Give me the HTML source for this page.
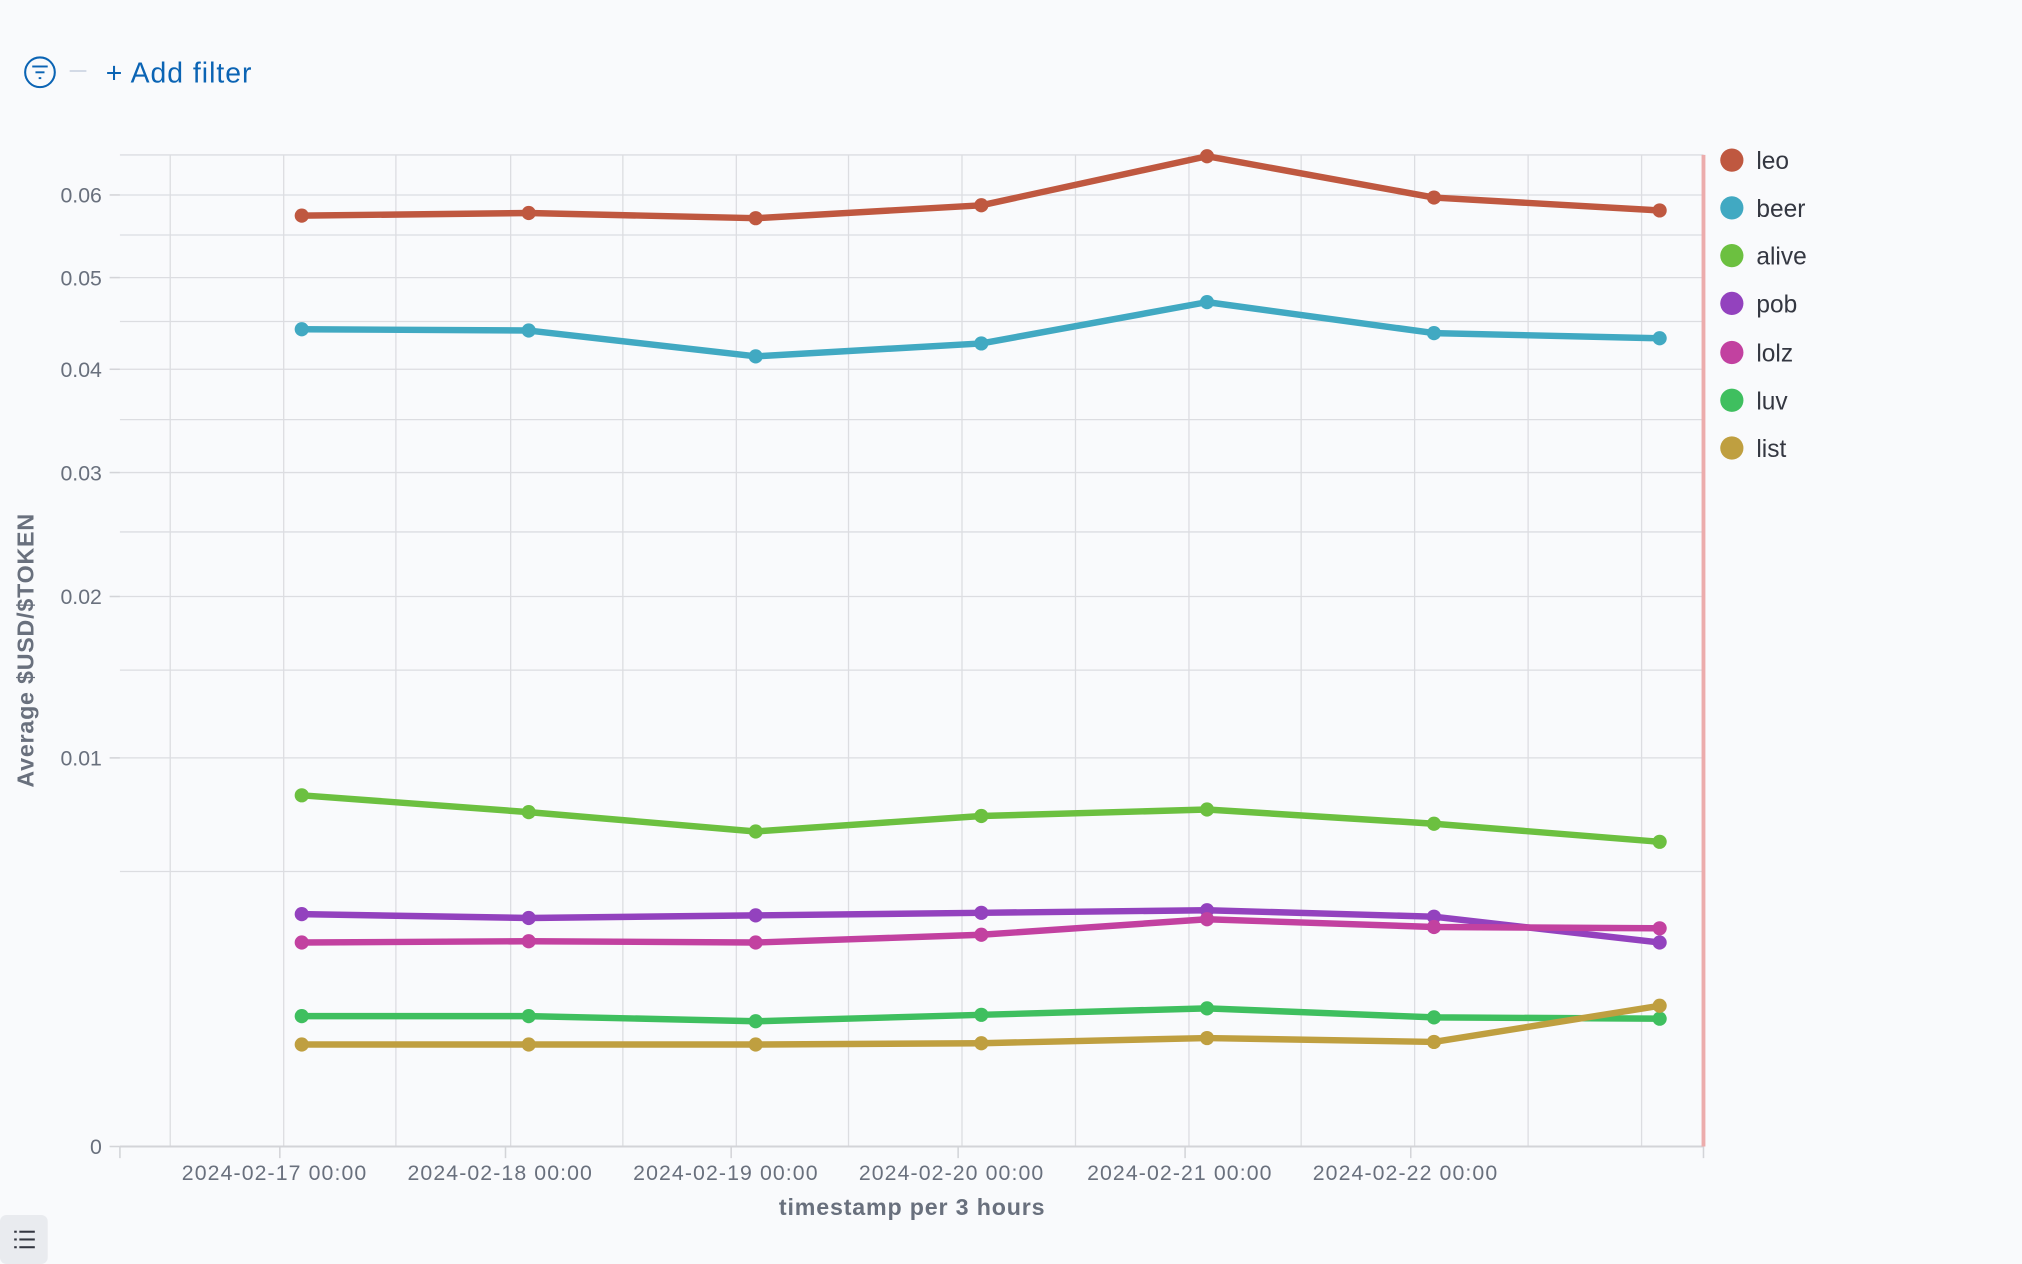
<!DOCTYPE html>
<html><head><meta charset="utf-8"><style>
html,body{margin:0;padding:0;background:#f9fafc;}
svg{display:block;font-family:"Liberation Sans",sans-serif;}
</style></head><body>
<svg width="2022" height="1264" viewBox="0 0 1568 979" preserveAspectRatio="none">
<rect width="1568" height="979" fill="#f9fafc"/>
<!-- filter bar -->
<circle cx="31" cy="56" r="11.5" fill="none" stroke="#0b64b4" stroke-width="1.6"/>
<line x1="25" y1="51.5" x2="37" y2="51.5" stroke="#0b64b4" stroke-width="1.5"/>
<line x1="27.5" y1="56" x2="34.5" y2="56" stroke="#0b64b4" stroke-width="1.5"/>
<line x1="30" y1="60.5" x2="32" y2="60.5" stroke="#0b64b4" stroke-width="1.5"/>
<line x1="54" y1="55" x2="67" y2="55" stroke="#d3dae6" stroke-width="1.5"/>
<text x="82" y="64" font-size="22" fill="#0b64b4" textLength="113">+ Add filter</text>
<!-- grid -->
<g stroke="#dcdde1" stroke-width="1">
<line x1="93" y1="120" x2="1321" y2="120"/>
<line x1="93" y1="151" x2="1321" y2="151"/>
<line x1="93" y1="182" x2="1321" y2="182"/>
<line x1="93" y1="215" x2="1321" y2="215"/>
<line x1="93" y1="249" x2="1321" y2="249"/>
<line x1="93" y1="286" x2="1321" y2="286"/>
<line x1="93" y1="325" x2="1321" y2="325"/>
<line x1="93" y1="366" x2="1321" y2="366"/>
<line x1="93" y1="412" x2="1321" y2="412"/>
<line x1="93" y1="462" x2="1321" y2="462"/>
<line x1="93" y1="519" x2="1321" y2="519"/>
<line x1="93" y1="587" x2="1321" y2="587"/>
<line x1="93" y1="675" x2="1321" y2="675"/>
<line x1="132" y1="120" x2="132" y2="888"/><line x1="220" y1="120" x2="220" y2="888"/>
<line x1="307" y1="120" x2="307" y2="888"/><line x1="396" y1="120" x2="396" y2="888"/>
<line x1="483" y1="120" x2="483" y2="888"/><line x1="571" y1="120" x2="571" y2="888"/>
<line x1="658" y1="120" x2="658" y2="888"/><line x1="746" y1="120" x2="746" y2="888"/>
<line x1="834" y1="120" x2="834" y2="888"/><line x1="922" y1="120" x2="922" y2="888"/>
<line x1="1009" y1="120" x2="1009" y2="888"/><line x1="1097" y1="120" x2="1097" y2="888"/>
<line x1="1185" y1="120" x2="1185" y2="888"/><line x1="1273" y1="120" x2="1273" y2="888"/>
</g>
<line x1="93" y1="888" x2="1321" y2="888" stroke="#d3d4d8" stroke-width="1.5"/>
<g stroke="#d3d4d8" stroke-width="1.2">
<line x1="93" y1="888" x2="93" y2="897"/><line x1="217" y1="888" x2="217" y2="897"/>
<line x1="392" y1="888" x2="392" y2="897"/><line x1="567" y1="888" x2="567" y2="897"/>
<line x1="743" y1="888" x2="743" y2="897"/><line x1="919" y1="888" x2="919" y2="897"/>
<line x1="1094" y1="888" x2="1094" y2="897"/><line x1="1321" y1="888" x2="1321" y2="897"/>
<line x1="85" y1="151" x2="93" y2="151"/><line x1="85" y1="215" x2="93" y2="215"/>
<line x1="85" y1="286" x2="93" y2="286"/><line x1="85" y1="366" x2="93" y2="366"/>
<line x1="85" y1="462" x2="93" y2="462"/><line x1="85" y1="587" x2="93" y2="587"/>
<line x1="85" y1="888" x2="93" y2="888"/>
</g>
<g font-size="16.5" fill="#69707d" text-anchor="end">
<text x="79" y="157">0.06</text><text x="79" y="221">0.05</text><text x="79" y="292">0.04</text>
<text x="79" y="372">0.03</text><text x="79" y="468">0.02</text><text x="79" y="593">0.01</text>
<text x="79" y="894">0</text>
</g>
<g font-size="16.5" fill="#69707d">
<text x="141" y="914" textLength="143">2024-02-17 00:00</text><text x="316" y="914" textLength="143">2024-02-18 00:00</text>
<text x="491" y="914" textLength="143">2024-02-19 00:00</text><text x="666" y="914" textLength="143">2024-02-20 00:00</text>
<text x="843" y="914" textLength="143">2024-02-21 00:00</text><text x="1018" y="914" textLength="143">2024-02-22 00:00</text>
</g>
<text x="604" y="941" font-size="18" font-weight="bold" fill="#69707d" textLength="206">timestamp per 3 hours</text>
<text transform="translate(26,610) rotate(-90)" font-size="18" font-weight="bold" fill="#69707d" textLength="212">Average $USD/$TOKEN</text>
<line x1="1321" y1="120" x2="1321" y2="888" stroke="#ecacac" stroke-width="3"/>
<!-- series -->
<g fill="none" stroke-width="5" stroke-linejoin="round" stroke-linecap="round">
<polyline stroke="#bf5840" points="234,167 410,165 586,169 761,159 936,121 1112,153 1287,163"/>
<polyline stroke="#41a9c2" points="234,255 410,256 586,276 761,266 936,234 1112,258 1287,262"/>
<polyline stroke="#6cc040" points="234,616 410,629 586,644 761,632 936,627 1112,638 1287,652"/>
<polyline stroke="#9342be" points="234,708 410,711 586,709 761,707 936,705 1112,710 1287,730"/>
<polyline stroke="#c241a0" points="234,730 410,729 586,730 761,724 936,712 1112,718 1287,719"/>
<polyline stroke="#3fbf5f" points="234,787 410,787 586,791 761,786 936,781 1112,788 1287,789"/>
<polyline stroke="#bf9f40" points="234,809 410,809 586,809 761,808 936,804 1112,807 1287,779"/>
</g>
<g>
<g fill="#bf5840"><circle cx="234" cy="167" r="5.5"/><circle cx="410" cy="165" r="5.5"/><circle cx="586" cy="169" r="5.5"/><circle cx="761" cy="159" r="5.5"/><circle cx="936" cy="121" r="5.5"/><circle cx="1112" cy="153" r="5.5"/><circle cx="1287" cy="163" r="5.5"/></g>
<g fill="#41a9c2"><circle cx="234" cy="255" r="5.5"/><circle cx="410" cy="256" r="5.5"/><circle cx="586" cy="276" r="5.5"/><circle cx="761" cy="266" r="5.5"/><circle cx="936" cy="234" r="5.5"/><circle cx="1112" cy="258" r="5.5"/><circle cx="1287" cy="262" r="5.5"/></g>
<g fill="#6cc040"><circle cx="234" cy="616" r="5.5"/><circle cx="410" cy="629" r="5.5"/><circle cx="586" cy="644" r="5.5"/><circle cx="761" cy="632" r="5.5"/><circle cx="936" cy="627" r="5.5"/><circle cx="1112" cy="638" r="5.5"/><circle cx="1287" cy="652" r="5.5"/></g>
<g fill="#9342be"><circle cx="234" cy="708" r="5.5"/><circle cx="410" cy="711" r="5.5"/><circle cx="586" cy="709" r="5.5"/><circle cx="761" cy="707" r="5.5"/><circle cx="936" cy="705" r="5.5"/><circle cx="1112" cy="710" r="5.5"/><circle cx="1287" cy="730" r="5.5"/></g>
<g fill="#c241a0"><circle cx="234" cy="730" r="5.5"/><circle cx="410" cy="729" r="5.5"/><circle cx="586" cy="730" r="5.5"/><circle cx="761" cy="724" r="5.5"/><circle cx="936" cy="712" r="5.5"/><circle cx="1112" cy="718" r="5.5"/><circle cx="1287" cy="719" r="5.5"/></g>
<g fill="#3fbf5f"><circle cx="234" cy="787" r="5.5"/><circle cx="410" cy="787" r="5.5"/><circle cx="586" cy="791" r="5.5"/><circle cx="761" cy="786" r="5.5"/><circle cx="936" cy="781" r="5.5"/><circle cx="1112" cy="788" r="5.5"/><circle cx="1287" cy="789" r="5.5"/></g>
<g fill="#bf9f40"><circle cx="234" cy="809" r="5.5"/><circle cx="410" cy="809" r="5.5"/><circle cx="586" cy="809" r="5.5"/><circle cx="761" cy="808" r="5.5"/><circle cx="936" cy="804" r="5.5"/><circle cx="1112" cy="807" r="5.5"/><circle cx="1287" cy="779" r="5.5"/></g>
</g>
<!-- legend -->
<g font-size="19" fill="#343741">
<circle cx="1343" cy="124" r="9" fill="#bf5840"/><text x="1362" y="131">leo</text>
<circle cx="1343" cy="161" r="9" fill="#41a9c2"/><text x="1362" y="168">beer</text>
<circle cx="1343" cy="198" r="9" fill="#6cc040"/><text x="1362" y="205">alive</text>
<circle cx="1343" cy="235" r="9" fill="#9342be"/><text x="1362" y="242">pob</text>
<circle cx="1343" cy="273" r="9" fill="#c241a0"/><text x="1362" y="280">lolz</text>
<circle cx="1343" cy="310" r="9" fill="#3fbf5f"/><text x="1362" y="317">luv</text>
<circle cx="1343" cy="347" r="9" fill="#bf9f40"/><text x="1362" y="354">list</text>
</g>
<!-- bottom-left button -->
<rect x="0" y="941" width="37" height="38" rx="5" fill="#e9ebef"/>
<g stroke="#343741" stroke-width="1.6">
<line x1="11" y1="954" x2="13" y2="954"/><line x1="15" y1="954" x2="27" y2="954"/>
<line x1="11" y1="960" x2="13" y2="960"/><line x1="15" y1="960" x2="27" y2="960"/>
<line x1="11" y1="966" x2="13" y2="966"/><line x1="15" y1="966" x2="27" y2="966"/>
</g>
</svg>
</body></html>
